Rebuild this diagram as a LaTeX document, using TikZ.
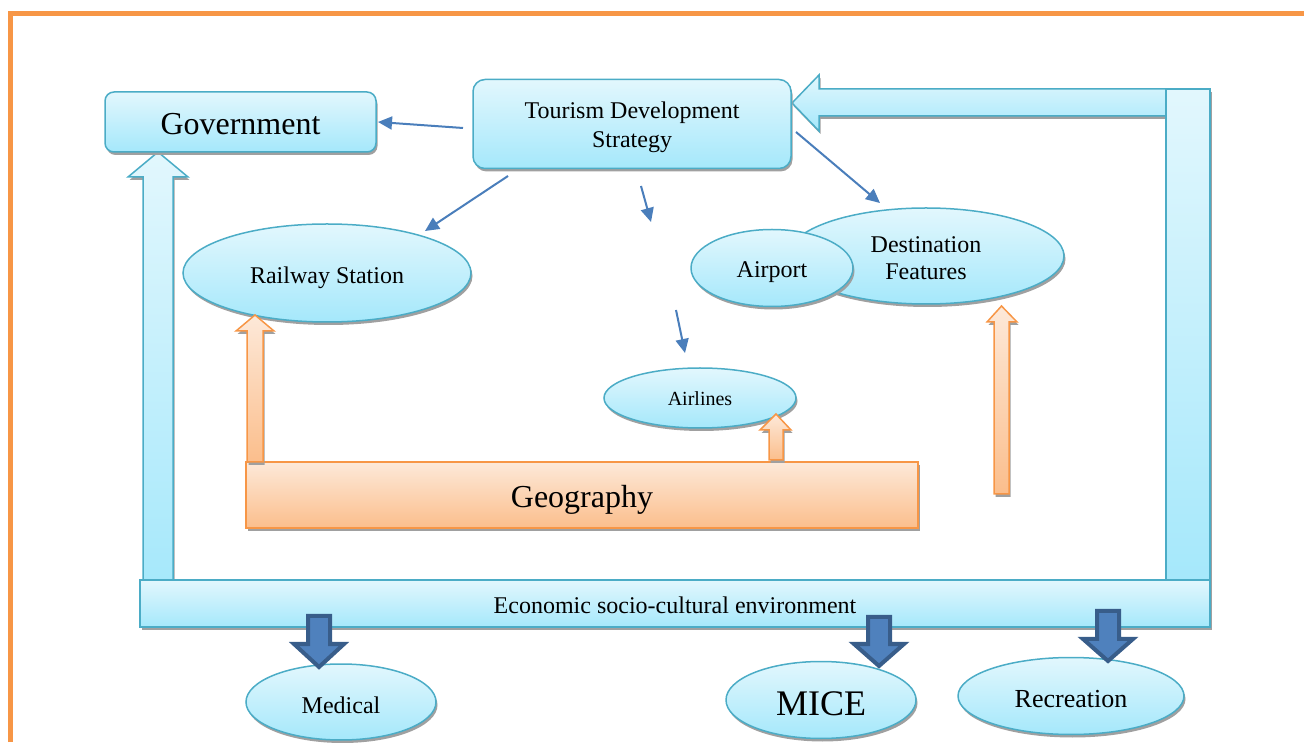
\documentclass[tikz,border=0pt]{standalone}
\usepackage{fontspec}
\setmainfont{Liberation Serif}
\usetikzlibrary{shapes.geometric,shadows,arrows.meta}
\definecolor{cyanT}{HTML}{E2F7FD}
\definecolor{cyanB}{HTML}{A5E8FB}
\definecolor{cyanD}{HTML}{4BACC6}
\definecolor{orT}{HTML}{FDE9D9}
\definecolor{orB}{HTML}{FBBE8C}
\definecolor{orD}{HTML}{F79646}
\definecolor{blueF}{HTML}{4F81BD}
\definecolor{blueD}{HTML}{385D8A}
\definecolor{lineB}{HTML}{4A7EBB}
\definecolor{shad}{HTML}{A0A0A0}
\newcommand{\mydown}[2]{\raisebox{-#1}[\height][\depth]{#2}}
\newcommand{\mytwo}[2]{\raisebox{-#1}[\height][\depth]{\begin{tabular}{@{}c@{}}#2\end{tabular}}}
\tikzset{
 shd/.style={drop shadow={shadow xshift=1.5pt, shadow yshift=-3pt, fill=shad, opacity=1}},
 cyanfill/.style={top color=cyanT, bottom color=cyanB, draw=cyanD, line width=1.5pt},
 orfill/.style={top color=orT, bottom color=orB, draw=orD, line width=1.5pt},
 boxnode/.style={cyanfill, shd, rounded corners=9pt, align=center, inner sep=0pt},
 ellnode/.style={ellipse, cyanfill, shd, inner sep=0pt, align=center},
 thinarrow/.style={draw=lineB, line width=2pt, -{Triangle[length=14pt,width=13pt]}},
 darkarrow/.style={fill=blueF, draw=blueD, line width=4pt, line join=miter},
 bigarrow/.style={cyanfill, shd},
 orarrow/.style={orfill, shd},
 fA/.style={font=\fontsize{24}{29}\selectfont},
}
\begin{document}
\begin{tikzpicture}[x=1pt,y=1pt]
\useasboundingbox (0,0) rectangle (1304,742);
% frame
\draw[orD, line width=5pt] (10,0) -- (10,728.5) -- (1304,728.5);
% big cyan arrows
\path[bigarrow] (1166,653) -- (819,653) -- (819,667) -- (792,639) -- (819,611) -- (819,626) -- (1166,626) -- cycle;
\path[bigarrow] (1166,160) rectangle (1210,653);
\path[bigarrow] (143,150) -- (143,565) -- (128,565) -- (158,590) -- (188,565) -- (173,565) -- (173,150) -- cycle;
% economic bar
\node[boxnode, sharp corners, minimum width=1070pt, minimum height=47pt, fA] (eco) at (675,138.5) {\mydown{2pt}{Economic socio-cultural environment}};
% top boxes
\node[boxnode, minimum width=271pt, minimum height=60pt, font=\fontsize{32}{38}\selectfont] (gov) at (240.5,620) {\mydown{2.5pt}{Government}};
\node[boxnode, rounded corners=12pt, minimum width=318pt, minimum height=89pt, fA] (tds) at (632,618) {\mytwo{3pt}{Tourism Development\\Strategy}};
% ellipses
\node[ellnode, minimum width=288pt, minimum height=98pt, fA] (rail) at (327,469) {\mydown{4.5pt}{Railway Station}};
\node[ellnode, minimum width=276pt, minimum height=96pt, font=\fontsize{24}{27}\selectfont] (dest) at (926,486) {\mytwo{5pt}{Destination\\Features}};
\node[ellnode, minimum width=162pt, minimum height=77pt, fA] (airport) at (772,474) {\mydown{4.5pt}{Airport}};
\node[ellnode, minimum width=192pt, minimum height=60pt, font=\fontsize{20}{24}\selectfont] (airlines) at (700,344) {\mydown{1pt}{Airlines}};
% geography
\node[orfill, shd, minimum width=672pt, minimum height=66pt, inner sep=0pt, font=\fontsize{32}{38}\selectfont] (geo) at (582,247) {\mydown{4.5pt}{Geography}};
% orange arrows
\path[orarrow] (247,280) -- (247,411) -- (236,411) -- (255,427) -- (274,411) -- (263,411) -- (263,280) -- cycle;
\path[orarrow] (769,282) -- (769,312) -- (760,312) -- (776,328) -- (791,312) -- (783,312) -- (783,282) -- cycle;
\path[orarrow] (994,248) -- (994,420) -- (987,420) -- (1001.5,436) -- (1017,420) -- (1009,420) -- (1009,248) -- cycle;
% bottom ellipses
\node[ellnode, minimum width=190pt, minimum height=76pt, fA] (medical) at (341,40) {\mydown{3pt}{Medical}};
\node[ellnode, minimum width=190pt, minimum height=77pt, font=\fontsize{36}{40}\selectfont] (mice) at (821,42) {\mydown{4pt}{MICE}};
\node[ellnode, minimum width=226pt, minimum height=77pt, font=\fontsize{26}{30}\selectfont] (recreation) at (1071,46) {\mydown{3pt}{Recreation}};
% dark arrows
\path[darkarrow] (308,126) -- (330,126) -- (330,98) -- (344,98) -- (319,75) -- (294,98) -- (308,98) -- cycle;
\path[darkarrow] (868,125) -- (890,125) -- (890,98) -- (904,98) -- (879,76) -- (854,98) -- (868,98) -- cycle;
\path[darkarrow] (1097,131) -- (1119,131) -- (1119,103) -- (1133,103) -- (1108,81) -- (1083,103) -- (1097,103) -- cycle;
% thin arrows
\coordinate (g1) at (463,614);
\coordinate (g2) at (378,620);
\coordinate (r1) at (508,566);
\coordinate (r2) at (425,511);
\coordinate (m1) at (641,556);
\coordinate (m2) at (651,520);
\coordinate (a1) at (676,432);
\coordinate (a2) at (685,389);
\coordinate (d1) at (796,610);
\coordinate (d2) at (880,539);
\draw[thinarrow] (g1) -- (g2);
\draw[thinarrow] (r1) -- (r2);
\draw[thinarrow] (m1) -- (m2);
\draw[thinarrow] (a1) -- (a2);
\draw[thinarrow] (d1) -- (d2);
\end{tikzpicture}
\end{document}
